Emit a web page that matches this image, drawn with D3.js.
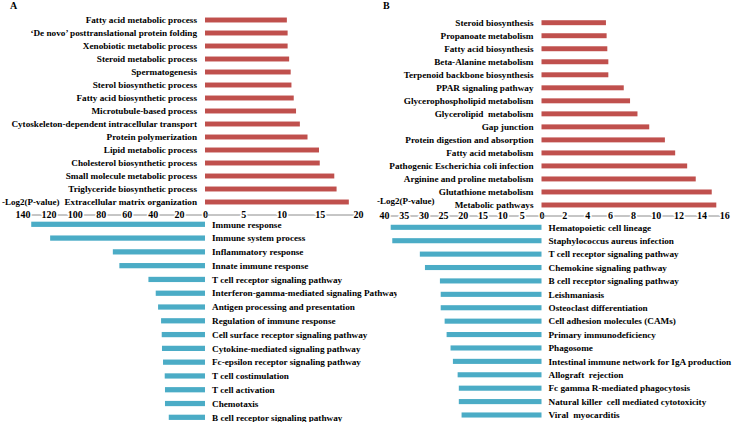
<!DOCTYPE html>
<html>
<head>
<meta charset="utf-8">
<script src="https://cdn.jsdelivr.net/npm/d3@7"></script>
<style>
  body { margin: 0; background: #fff; }
  text { font-family: "Liberation Serif", "Times New Roman", serif; font-weight: bold; fill: #000; }
</style>
</head>
<body>
<div id="chart"></div>
<script>
// Panel A - up-regulated GO terms
const aUpTerms = [
  'Fatty acid metabolic process',
  '\u2018De novo\u2019 posttranslational protein folding',
  'Xenobiotic metabolic process',
  'Steroid metabolic process',
  'Spermatogenesis',
  'Sterol biosynthetic process',
  'Fatty acid biosynthetic process',
  'Microtubule-based process',
  'Cytoskeleton-dependent intracellular transport',
  'Protein polymerization',
  'Lipid metabolic process',
  'Cholesterol biosynthetic process',
  'Small molecule metabolic process',
  'Triglyceride biosynthetic process',
  'Extracellular matrix organization'
];
const aUpValues = [10.7, 10.8, 10.8, 11.0, 11.2, 11.3, 11.6, 11.9, 12.4, 13.4, 14.9, 15.0, 16.9, 17.2, 18.8];

// Panel A - down-regulated GO terms
const aDownTerms = [
  'Immune response',
  'Immune system process',
  'Inflammatory response',
  'Innate immune response',
  'T cell receptor signaling pathway',
  'Interferon-gamma-mediated signaling Pathway',
  'Antigen processing and presentation',
  'Regulation of immune response',
  'Cell surface receptor signaling pathway',
  'Cytokine-mediated signaling pathway',
  'Fc-epsilon receptor signaling pathway',
  'T cell costimulation',
  'T cell activation',
  'Chemotaxis',
  'B cell receptor signaling pathway'
];
const aDownValues = [133.3, 118.8, 70.7, 65.7, 43.4, 37.8, 36.0, 33.7, 33.2, 33.0, 32.2, 30.9, 30.7, 30.7, 27.8];

// Panel B - up-regulated KEGG pathways
const bUpTerms = [
  'Steroid biosynthesis',
  'Propanoate metabolism',
  'Fatty acid biosynthesis',
  'Beta-Alanine metabolism',
  'Terpenoid backbone biosynthesis',
  'PPAR signaling pathway',
  'Glycerophospholipid metabolism',
  'Glycerolipid  metabolism',
  'Gap junction',
  'Protein digestion and absorption',
  'Fatty acid metabolism',
  'Pathogenic Escherichia coli infection',
  'Arginine and proline metabolism',
  'Glutathione metabolism',
  'Metabolic pathways'
];
const bUpValues = [5.64, 5.7, 5.76, 5.85, 5.85, 7.2, 7.75, 8.4, 9.43, 10.8, 11.7, 12.75, 13.5, 14.9, 15.3];

// Panel B - down-regulated KEGG pathways
const bDownTerms = [
  'Hematopoietic cell lineage',
  'Staphylococcus aureus infection',
  'T cell receptor signaling pathway',
  'Chemokine signaling pathway',
  'B cell receptor signaling pathway',
  'Leishmaniasis',
  'Osteoclast differentiation',
  'Cell adhesion molecules (CAMs)',
  'Primary immunodeficiency',
  'Phagosome',
  'Intestinal immune network for IgA production',
  'Allograft  rejection',
  'Fc gamma R-mediated phagocytosis',
  'Natural killer  cell mediated cytotoxicity',
  'Viral  myocarditis'
];
const bDownValues = [38.3, 37.9, 30.9, 29.6, 25.8, 25.6, 25.6, 24.6, 24.1, 23.1, 22.5, 21.3, 21.0, 21.0, 20.3];

// tick labels
const aUpTicks = [0, 5, 10, 15, 20];
const aDownTicks = [0, 20, 40, 60, 80, 100, 120, 140];
const bUpTicks = [0, 2, 4, 6, 8, 10, 12, 14, 16];
const bDownTicks = [0, 5, 10, 15, 20, 25, 30, 35, 40];

const width = 732, height = 422;
const red = '#C0504D', blue = '#4BACC6';

const svg = d3.select('#chart').append('svg')
  .attr('width', width)
  .attr('height', height);

svg.append('defs').append('clipPath')
  .attr('id', 'clipA')
  .append('rect')
  .attr('x', 0).attr('y', 0)
  .attr('width', 397).attr('height', height);

function drawPanel(g, p) {
  // scales
  const xUp = d3.scaleLinear().domain([0, p.upMax]).range([p.zero, p.upEnd]);
  const xDown = d3.scaleLinear().domain([0, p.downMax]).range([p.zero, p.downEnd]);
  const yUp = d3.scaleBand().domain(p.upTerms).range(p.upRange).paddingInner(0.62).paddingOuter(0.31);
  const yDown = d3.scaleBand().domain(p.downTerms).range(p.downRange).paddingInner(0.62).paddingOuter(0.31);

  // up bars (red, to the right)
  g.selectAll('.bar-up')
    .data(p.upValues)
    .enter().append('rect')
    .attr('class', 'bar-up')
    .attr('x', xUp(0))
    .attr('y', (d, i) => yUp(p.upTerms[i]))
    .attr('width', d => xUp(d) - xUp(0))
    .attr('height', yUp.bandwidth())
    .style('fill', red);

  g.selectAll('.label-up')
    .data(p.upTerms)
    .enter().append('text')
    .attr('class', 'label-up')
    .attr('x', xUp(0) - 8)
    .attr('y', d => yUp(d) + yUp.bandwidth() / 2)
    .attr('dy', '0.35em')
    .attr('text-anchor', 'end')
    .style('font-size', '9.2px')
    .style('white-space', 'pre')
    .text(d => d);

  // down bars (blue, to the left)
  g.selectAll('.bar-down')
    .data(p.downValues)
    .enter().append('rect')
    .attr('class', 'bar-down')
    .attr('x', d => xDown(d))
    .attr('y', (d, i) => yDown(p.downTerms[i]))
    .attr('width', d => xDown(0) - xDown(d))
    .attr('height', yDown.bandwidth())
    .style('fill', blue);

  g.selectAll('.label-down')
    .data(p.downTerms)
    .enter().append('text')
    .attr('class', 'label-down')
    .attr('x', xDown(0) + 7)
    .attr('y', d => yDown(d) + yDown.bandwidth() / 2)
    .attr('dy', '0.35em')
    .style('font-size', '9.2px')
    .style('white-space', 'pre')
    .text(d => d);

  // axes: labels sit on the line
  const axes = [
    d3.axisBottom(xDown).tickValues(p.downTicks).tickSize(0),
    d3.axisBottom(xUp).tickValues(p.upTicks.slice(1)).tickSize(0)
  ];
  axes.forEach(ax => {
    const a = g.append('g')
      .attr('transform', 'translate(0,' + p.axisY + ')')
      .call(ax);
    a.select('.domain').attr('stroke', '#8c8c8c').attr('stroke-width', 1);
    a.selectAll('text')
      .attr('y', 0)
      .attr('dy', '0.35em')
      .style('font-family', '"Liberation Serif", "Times New Roman", serif')
      .style('font-weight', 'bold')
      .style('font-size', '10px')
      .attr('fill', '#000')
      .attr('stroke', '#fff')
      .attr('stroke-width', 3)
      .attr('paint-order', 'stroke');
  });

  g.append('text')
    .attr('x', p.unitX)
    .attr('y', p.unitY)
    .attr('dy', '0.35em')
    .style('font-size', '9px')
    .text('-Log2(P-value)');

  g.append('text')
    .attr('x', p.letterX)
    .attr('y', 9)
    .style('font-size', '10px')
    .text(p.letter);
}

drawPanel(svg.append('g').attr('clip-path', 'url(#clipA)'), {
  letter: 'A', letterX: 10,
  upTerms: aUpTerms, upValues: aUpValues, upMax: 20, upTicks: aUpTicks,
  downTerms: aDownTerms, downValues: aDownValues, downMax: 140, downTicks: aDownTicks,
  zero: 205, upEnd: 358, downEnd: 22.5,
  upRange: [13.5, 208.5], downRange: [217.4, 424.2],
  axisY: 214.5, unitX: 2, unitY: 201.5
});

drawPanel(svg.append('g'), {
  letter: 'B', letterX: 383,
  upTerms: bUpTerms, upValues: bUpValues, upMax: 16, upTicks: bUpTicks,
  downTerms: bDownTerms, downValues: bDownValues, downMax: 40, downTicks: bDownTicks,
  zero: 541.5, upEnd: 724.3, downEnd: 384,
  upRange: [16.2, 211.5], downRange: [220.6, 421.7],
  axisY: 215.5, unitX: 377, unitY: 201
});
</script>
</body>
</html>
